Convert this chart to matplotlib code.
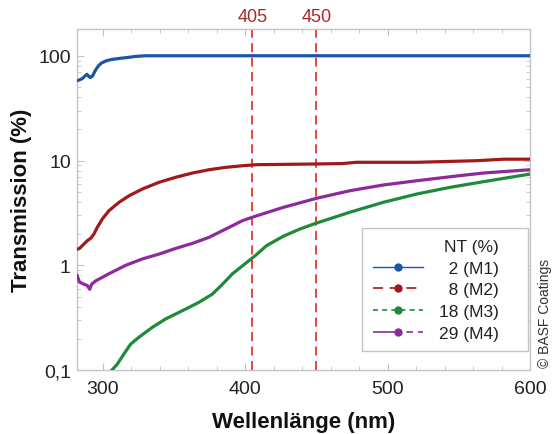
import matplotlib
matplotlib.use("Agg")
import matplotlib.pyplot as plt
from matplotlib.lines import Line2D
from matplotlib.ticker import FixedLocator, MultipleLocator, LogLocator, NullFormatter

plt.rcParams['font.family'] = ['Liberation Sans', 'DejaVu Sans']

# ---- data ----
wl_m1 = [282, 284, 286, 287.5, 289, 290.5, 291.5, 293, 295, 297, 299, 302.6, 306, 312, 318, 323, 330, 400, 500, 600]
t_m1 = [57.7, 59, 61, 64, 66.5, 63, 62, 64.5, 73, 80, 85, 89.6, 92, 94.4, 96.5, 98.5, 100, 100, 100, 100]

wl_m2 = [282, 283.8, 285.7, 289.3, 291.6, 293.9, 296.3, 299.8, 304.4, 311.5, 318.5, 327.9, 339.6, 351.3,
         363, 374.7, 386.4, 398.2, 407.5, 450, 468, 478.2, 520.4, 562.6, 581.3, 600]
t_m2 = [1.42, 1.45, 1.54, 1.72, 1.81, 1.99, 2.31, 2.77, 3.32, 3.99, 4.61, 5.35, 6.20, 6.92,
        7.60, 8.17, 8.61, 8.92, 9.12, 9.27, 9.35, 9.62, 9.62, 9.96, 10.3, 10.3]

wl_m3 = [306.5, 310.3, 315, 319.7, 325.5, 334.9, 344.3, 356, 367.7, 377.1, 384.1, 391.1, 398.2, 407.5,
         415, 426.7, 438.4, 450.1, 473.5, 496.9, 520.4, 543.8, 567.2, 600]
t_m3 = [0.1, 0.114, 0.143, 0.177, 0.206, 0.256, 0.308, 0.369, 0.444, 0.532, 0.66, 0.83, 0.99, 1.25,
        1.54, 1.89, 2.22, 2.53, 3.21, 3.99, 4.79, 5.55, 6.28, 7.43]

wl_m4 = [282, 283.8, 286.9, 289.3, 290.9, 292.3, 295.1, 304.4, 316.2, 327.9, 339.6, 351.3, 363, 374.7,
         386.4, 398.2, 407.5, 426.7, 450.1, 473.5, 496.9, 520.4, 543.8, 567.2, 600]
t_m4 = [0.80, 0.69, 0.66, 0.64, 0.59, 0.66, 0.71, 0.83, 1.0, 1.15, 1.28, 1.45, 1.62, 1.85,
        2.22, 2.67, 2.95, 3.57, 4.36, 5.15, 5.84, 6.41, 7.0, 7.6, 8.17]

laser_lines = [405, 450]
legend_labels = ["\u20072 (M1)\u2007\u2007", "\u20078 (M2)\u2007\u2007", "18 (M3)\u2007\u2007", "29 (M4)\u2007\u2007"]
legend_title = "NT (%)\u2007\u2007"

c_blue = '#1c55a5'
c_red = '#a0191b'
c_green = '#1f8a3a'
c_purple = '#8e2b9c'
c_laser = '#e5372d'
c_grey = '#c4c4c4'

fig = plt.figure(figsize=(5.54, 4.35), dpi=100)
ax = fig.add_axes([0.139, 0.147, 0.818, 0.784])

lw = 2.3
ax.plot(wl_m1, t_m1, color=c_blue, lw=lw, zorder=3)
ax.plot(wl_m2, t_m2, color=c_red, lw=lw, zorder=3)
ax.plot(wl_m3, t_m3, color=c_green, lw=lw, zorder=3)
ax.plot(wl_m4, t_m4, color=c_purple, lw=lw, zorder=3)

for x in laser_lines:
    ax.axvline(x, color=c_laser, lw=1.3, dashes=(5, 3), zorder=2)
    ax.text(x, 1.012, str(x), transform=ax.get_xaxis_transform(), ha='center', va='bottom',
            fontsize=13, color='#a8282a')

ax.set_yscale('log')
ax.set_xlim(282, 600)
ax.set_ylim(0.1, 180)
ax.xaxis.set_major_locator(FixedLocator([300, 400, 500, 600]))
ax.xaxis.set_minor_locator(MultipleLocator(20))
ax.yaxis.set_major_locator(FixedLocator([0.1, 1, 10, 100]))
ax.yaxis.set_minor_locator(LogLocator(base=10, subs=range(2, 10)))
ax.yaxis.set_minor_formatter(NullFormatter())
ax.set_yticklabels(['0,1', '1', '10', '100'])

for s in ax.spines.values():
    s.set_color(c_grey)
    s.set_linewidth(1.0)
ax.tick_params(which='both', direction='in', top=True, right=True, color=c_grey, labelsize=14,
               labelcolor='#222222')
ax.tick_params(which='major', length=5)
ax.tick_params(which='minor', length=3)
ax.tick_params(axis='x', which='major', pad=7)
ax.tick_params(axis='y', which='major', pad=4.5)

ax.set_xlabel('Wellenlänge (nm)', fontsize=16, fontweight='bold', color='#111111')
ax.set_ylabel('Transmission (%)', fontsize=16, fontweight='bold', color='#111111')
ax.xaxis.set_label_coords(0.5, -0.12)
ax.yaxis.set_label_coords(-0.10, 0.5)

handles = [
    Line2D([], [], color=c_blue, lw=1.0, marker='o', ms=5),
    Line2D([], [], color=c_red, lw=1.2, marker='o', ms=5, dashes=(6, 4)),
    Line2D([], [], color=c_green, lw=1.2, marker='o', ms=5, dashes=(3, 2.5)),
    Line2D([], [], color=c_purple, lw=1.2, marker='o', ms=5, dashes=(17, 3, 4, 3, 4, 3)),
]
leg = ax.legend(handles, legend_labels, title=legend_title, loc='lower right',
                bbox_to_anchor=(0.996, 0.055), fontsize=12.5, title_fontsize=12.5,
                alignment='right', frameon=True, fancybox=False, handlelength=2.9,
                handletextpad=0.9, labelspacing=0.38, borderpad=0.6, framealpha=1,
                borderaxespad=0.0)
leg.get_frame().set_edgecolor(c_grey)
leg.get_frame().set_linewidth(1.0)
for t in leg.get_texts():
    t.set_color('#222222')
leg.get_title().set_color('#222222')

fig.text(0.984, 0.155, '© BASF Coatings', rotation=90, ha='center', va='bottom',
         fontsize=10, color='#333333')

fig.savefig('out.png', dpi=100)
